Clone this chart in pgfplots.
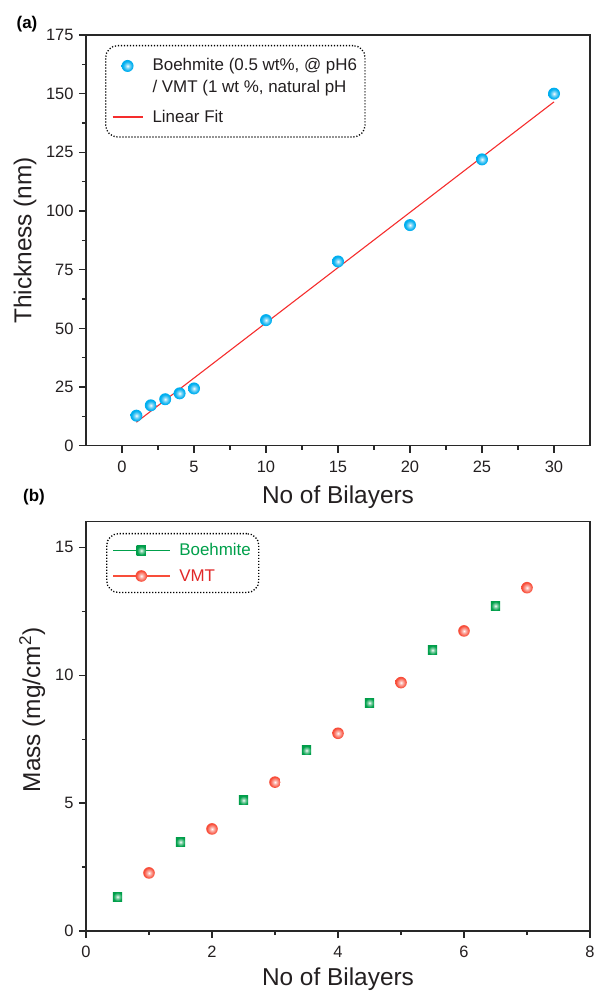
\documentclass[border=0pt]{standalone}
\usepackage{pgfplots}
\pgfplotsset{compat=1.18}
\usepackage{fontspec}
\setmainfont{Liberation Sans}

\definecolor{axisgray}{RGB}{40,40,40}
\definecolor{txtgray}{RGB}{35,31,32}
\definecolor{ballcyan}{RGB}{0,174,239}
\definecolor{ballcyanedge}{RGB}{0,150,220}
\definecolor{fitred}{RGB}{245,45,45}
\definecolor{bgreen}{RGB}{0,160,75}
\definecolor{bgreendark}{RGB}{0,135,60}
\definecolor{vred}{RGB}{248,78,58}
\definecolor{vreddark}{RGB}{238,62,45}
\definecolor{legred}{RGB}{225,40,40}

% shaded markers
\pgfdeclareradialshading{cyanshade}{\pgfpointorigin}{color(0bp)=(white); color(7bp)=(ballcyan!45!white); color(20bp)=(ballcyan); color(40bp)=(ballcyan); color(50bp)=(ballcyanedge); color(72bp)=(ballcyanedge)}
\pgfdeclareradialshading{greenshade}{\pgfpointorigin}{color(0bp)=(white); color(8bp)=(bgreen!45!white); color(24bp)=(bgreen); color(72bp)=(bgreendark)}
\pgfdeclareradialshading{redshade}{\pgfpointorigin}{color(0bp)=(white); color(7bp)=(vred!40!white); color(22bp)=(vred); color(72bp)=(vreddark)}
\pgfdeclareplotmark{cyanball}{\pgfpathcircle{\pgfpointorigin}{\pgfplotmarksize}\pgfshadepath{cyanshade}{0}\pgfusepath{discard}}
\pgfdeclareplotmark{greensq}{\pgfpathrectangle{\pgfpoint{-\pgfplotmarksize}{-\pgfplotmarksize}}{\pgfpoint{2\pgfplotmarksize}{2\pgfplotmarksize}}\pgfshadepath{greenshade}{0}\pgfusepath{discard}}
\pgfdeclareplotmark{redball}{\pgfpathcircle{\pgfpointorigin}{\pgfplotmarksize}\pgfshadepath{redshade}{0}\pgfusepath{discard}}

\pgfplotsset{
  panel/.style={
    scale only axis, width=504bp, anchor=south west,
    axis line style={draw=axisgray, line width=1.3bp},
    tick style={draw=axisgray, line width=1.2bp},
    major tick length=7bp, minor tick length=4bp,
    tick align=outside, xtick pos=bottom, ytick pos=left,
    minor x tick num=1, minor y tick num=1,
    tick label style={font=\fontsize{16.5}{19}\selectfont, text=txtgray},
    xticklabel style={yshift=-5bp}, yticklabel style={xshift=-2bp},
    /pgf/number format/assume math mode=true,
    legend cell align=left,
  },
  xlab/.style={every axis x label/.style={at={(axis description cs:0.5,0)}, anchor=center, yshift=-#1,
      font=\fontsize{24.5}{28}\selectfont, text=txtgray}},
  ylab/.style 2 args={every axis y label/.style={at={(axis description cs:#1,#2)}, rotate=90, anchor=center,
      font=\fontsize{24.5}{28}\selectfont, text=txtgray}},
  ballleg/.style={legend image code/.code={\path[draw=none] (0bp,-17bp) rectangle (38bp,17bp); \draw[##1] plot coordinates {(15bp,10.5bp)};}},
  fitleg/.style={legend image code/.code={\path[draw=none] (0bp,0bp) -- (38bp,0bp); \draw[##1, solid, line width=1.8bp] (0bp,0bp) -- (30bp,0bp);}},
  linemarkleg/.style={legend image code/.code={\path[draw=none] (0bp,0bp) -- (64bp,0bp); \draw[#1, line width=1.3bp, solid] (0bp,0bp) -- (57bp,0bp); \draw[##1] plot coordinates {(28bp,0bp)};}},
  dotbox/.style={draw=black, line width=1.3bp, dash pattern=on 1.2bp off 1.8bp, rounded corners=12bp,
    font=\fontsize{17}{22}\selectfont},
}

\begin{document}
\begin{tikzpicture}
\useasboundingbox (0,0) rectangle (597bp,991bp);

\begin{axis}[panel, at={(86bp,545.3bp)}, height=410.7bp,
  xmin=-2.5, xmax=32.5, ymin=0, ymax=175,
  xtick={0,5,...,30}, ytick={0,25,...,175},
  xlabel={No of Bilayers}, ylabel={Thickness (nm)}, xlab=51bp, ylab={-0.121}{0.5},
  legend style={at={(axis description cs:0.0377,0.9757)}, anchor=north west, dotbox,
    text=txtgray, inner xsep=6bp, inner ysep=11bp, cells={align=left}, row sep=12bp},
]
\addplot[only marks, mark=cyanball, mark size=6bp, ballleg]
  coordinates {(1,12.8) (2,17.2) (3,19.8) (4,22.3) (5,24.4) (10,53.5) (15,78.5) (20,94) (25,122) (30,150)};
\addlegendentry{Boehmite (0.5 wt\%, @ pH6\\/ VMT (1 wt \%, natural pH}
\addplot[fitred, line width=1.1bp, no marks, fitleg]
  coordinates {(1,10.0) (30,146.5)};
\addlegendentry{Linear Fit}
\end{axis}

\begin{axis}[panel, at={(86bp,60bp)}, height=409.3bp,
  xmin=0, xmax=8, ymin=0, ymax=16,
  xtick={0,2,...,8}, ytick={0,5,10,15},
  xlabel={No of Bilayers}, ylabel={Mass (mg/cm\textsuperscript{2})}, xlab=48bp, ylab={-0.107}{0.54},
  legend style={at={(axis description cs:0.0397,0.9724)}, anchor=north west, dotbox,
    inner xsep=6bp, inner ysep=8bp, row sep=8bp},
]
\addplot[only marks, mark=greensq, mark size=4.6bp, linemarkleg=bgreen]
  coordinates {(0.5,1.34) (1.5,3.48) (2.5,5.11) (3.5,7.06) (4.5,8.92) (5.5,10.98) (6.5,12.71)};
\addlegendentry{\textcolor{bgreen}{Boehmite}}
\addplot[only marks, mark=redball, mark size=5.8bp, linemarkleg=vred]
  coordinates {(1,2.27) (2,3.99) (3,5.82) (4,7.73) (5,9.71) (6,11.73) (7,13.42)};
\addlegendentry{\textcolor{legred}{VMT}}
\end{axis}

\node[font=\bfseries\fontsize{17}{20}\selectfont, text=black] at (27bp,967bp) {(a)};
\node[font=\bfseries\fontsize{17}{20}\selectfont, text=black] at (34bp,494bp) {(b)};
\end{tikzpicture}
\end{document}
